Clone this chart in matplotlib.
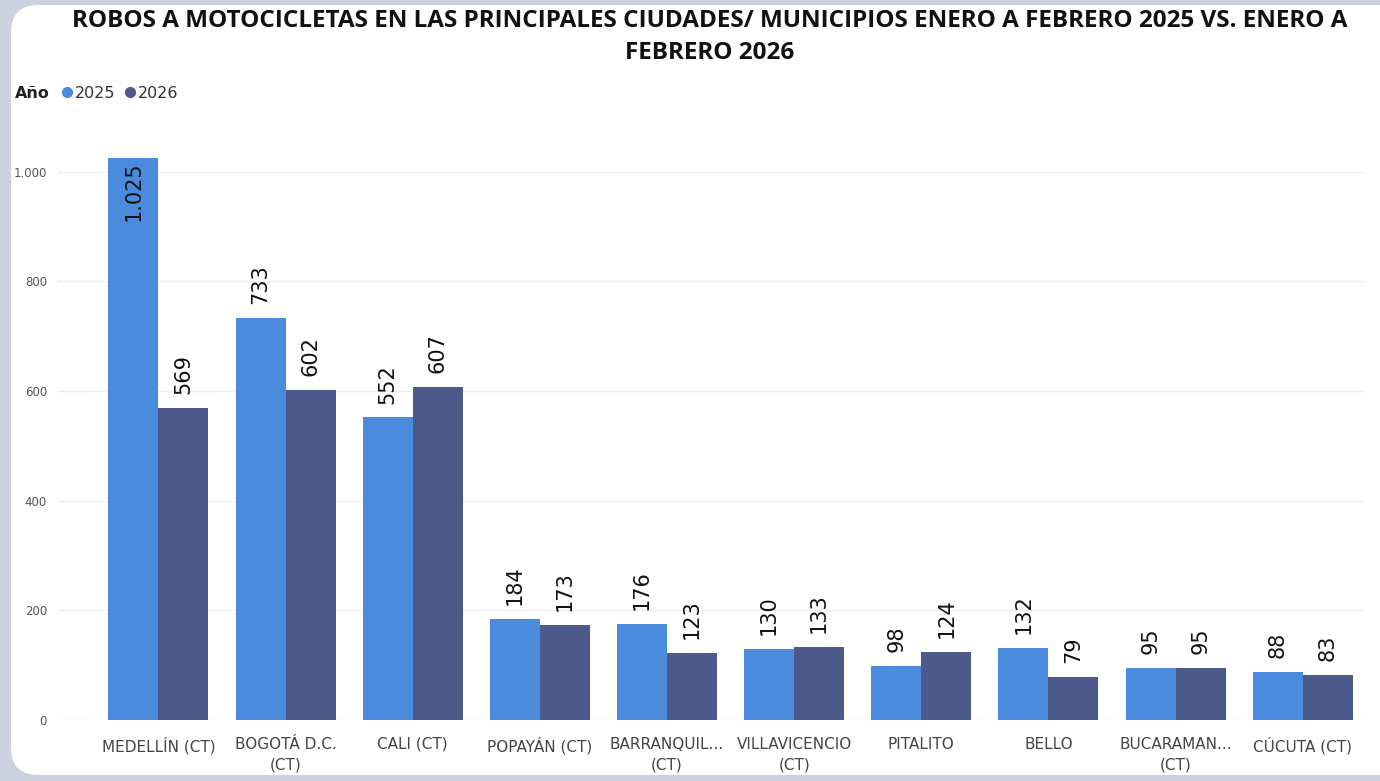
import matplotlib
matplotlib.use("Agg")
import matplotlib.pyplot as plt
from matplotlib.patches import FancyBboxPatch
from matplotlib.lines import Line2D

categories = ["MEDELLÍN (CT)", "BOGOTÁ D.C.\n(CT)", "CALI (CT)", "POPAYÁN (CT)",
              "BARRANQUIL...\n(CT)", "VILLAVICENCIO\n(CT)", "PITALITO", "BELLO",
              "BUCARAMAN...\n(CT)", "CÚCUTA (CT)"]
v2025 = [1025, 733, 552, 184, 176, 130, 98, 132, 95, 88]
v2026 = [569, 602, 607, 173, 123, 133, 124, 79, 95, 83]
yticks = [0, 200, 400, 600, 800, 1000]
ytick_labels = ["0", "200", "400", "600", "800", "1.000"]

c25 = "#4A8BDD"
c26 = "#4C5A8B"

W, H = 1380, 781
fig = plt.figure(figsize=(W/100, H/100), dpi=100)
fig.patch.set_facecolor("#C9D2DE")
card = FancyBboxPatch((11/W, 6/H), 1.2, (770)/H, boxstyle="round,pad=0,rounding_size=0.02",
                      transform=fig.transFigure, facecolor="white", edgecolor="none",
                      mutation_aspect=W/H, zorder=-10)
fig.patches.append(card)

left, right = 58/W, 1365/W
bottom, top = 1 - 720/H, 1 - 117/H
ax = fig.add_axes([left, bottom, right-left, top-bottom])
ax.set_zorder(1)
ax.set_facecolor("none")
ymax = 1100
ax.set_ylim(0, ymax)
ax.set_xlim(-0.79, 9.49)

bw = 0.393
x = list(range(len(categories)))
ax.bar([i - bw/2 for i in x], v2025, width=bw, color=c25, zorder=2)
ax.bar([i + bw/2 for i in x], v2026, width=bw, color=c26, zorder=2)

def lab(xp, v):
    s = f"{v:,}".replace(",", ".")
    if v > 1000:
        ax.annotate(s, (xp, v), xytext=(0, -2), textcoords="offset points",
                    rotation=90, ha="center", va="top", fontsize=15,
                    color="#111111", zorder=3)
    else:
        ax.annotate(s, (xp, v), xytext=(0, 10), textcoords="offset points",
                    rotation=90, ha="center", va="bottom", fontsize=15,
                    color="#111111", zorder=3)

for i in x:
    lab(i - bw/2, v2025[i])
    lab(i + bw/2, v2026[i])

ax.set_yticks(yticks)
ax.set_yticklabels(ytick_labels, fontsize=8.5, color="#555555")
ax.tick_params(axis="y", length=0, pad=8)
ax.grid(axis="y", color="#EDEDED", linewidth=1, zorder=0)
ax.set_axisbelow(True)
for s in ax.spines.values():
    s.set_visible(False)
ax.set_xticks(x)
ax.set_xticklabels(categories, fontsize=11, color="#444444", linespacing=1.5,
                   va="top")
ax.tick_params(axis="x", length=0, pad=12)

fig.text(710/W, 1 - 21/H, "ROBOS A MOTOCICLETAS EN LAS PRINCIPALES CIUDADES/ MUNICIPIOS ENERO A FEBRERO 2025 VS. ENERO A",
         ha="center", va="center", fontsize=17.5, fontweight="bold", color="#111111", family="Open Sans")
fig.text(710/W, 1 - 53/H, "FEBRERO 2026",
         ha="center", va="center", fontsize=17.5, fontweight="bold", color="#111111", family="Open Sans")

fig.text(15/W, 1 - 93/H, "Año", ha="left", va="center", fontsize=11.5, fontweight="bold", color="#222222")
fig.add_artist(Line2D([67/W], [1 - 92/H], marker="o", markersize=7, color=c25, transform=fig.transFigure))
fig.text(75/W, 1 - 93/H, "2025", ha="left", va="center", fontsize=11.5, color="#333333")
fig.add_artist(Line2D([130/W], [1 - 92/H], marker="o", markersize=7, color=c26, transform=fig.transFigure))
fig.text(138/W, 1 - 93/H, "2026", ha="left", va="center", fontsize=11.5, color="#333333")

fig.savefig("out.png", dpi=100, facecolor=fig.get_facecolor())
